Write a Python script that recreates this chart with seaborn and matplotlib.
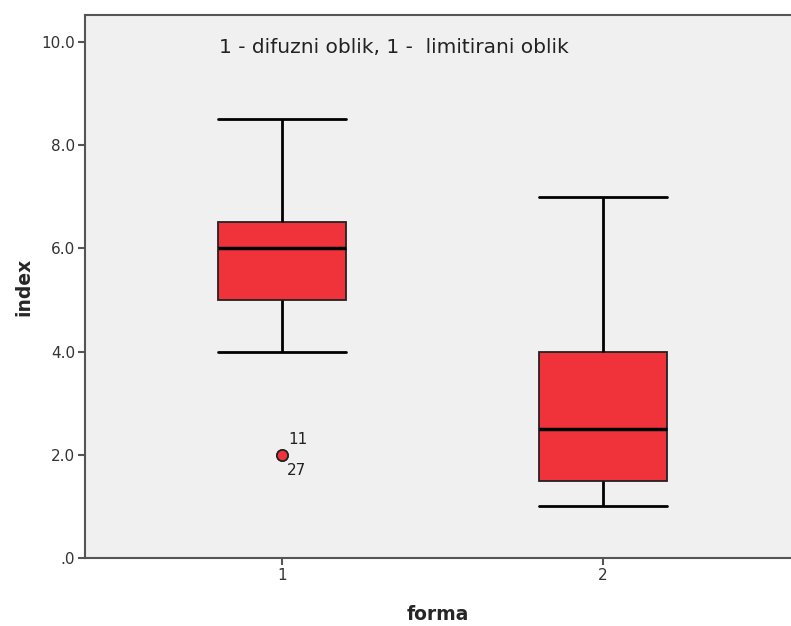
import matplotlib
matplotlib.use("Agg")
import matplotlib.pyplot as plt
import seaborn as sns
import pandas as pd

# values (SPSS style boxplot)
forma_1 = [2.0, 2.0, 4.0, 5.0, 5.0, 5.0, 6.0, 6.0, 6.0, 6.0, 6.5, 6.5, 6.5, 7.0, 8.5]
forma_2 = [1.0, 1.0, 1.5, 1.5, 1.5, 2.0, 2.5, 2.5, 3.0, 4.0, 4.0, 4.0, 5.0, 6.0, 7.0]
groups = ["1", "2"]
outlier_cases = ["11", "27"]
outlier_value = 2.0
yticks = [0, 2, 4, 6, 8, 10]
ytick_labels = [".0", "2.0", "4.0", "6.0", "8.0", "10.0"]
note = "1 - difuzni oblik, 1 -  limitirani oblik"

df = pd.DataFrame({
    "forma": [groups[0]] * len(forma_1) + [groups[1]] * len(forma_2),
    "index": forma_1 + forma_2,
})

sns.set_style("white")
plt.rcParams["font.family"] = ["DejaVu Sans"]

fig = plt.figure(figsize=(7.91, 6.26), dpi=100)
ax = fig.add_axes([85 / 791, (626 - 558) / 626, (791 - 85) / 791, (558 - 15) / 626])
ax.set_facecolor("#f0f0f0")

red = "#f0333b"
box_w = 0.40
sns.boxplot(data=df, x="forma", y="index", order=groups, ax=ax, width=box_w,
            color=red, saturation=1, linewidth=1.3, whis=1.5,
            boxprops=dict(facecolor=red, edgecolor="#222222"),
            whiskerprops=dict(color="black", linewidth=2),
            capprops=dict(color="black", linewidth=2),
            medianprops=dict(color="black", linewidth=2.5),
            flierprops=dict(marker="o", markerfacecolor=red, markeredgecolor="#222222",
                            markersize=8, markeredgewidth=1.2))

# SPSS draws the whisker caps as wide as the box
for line in ax.lines:
    xs, ys = line.get_xdata(), line.get_ydata()
    if len(xs) == 2 and ys[0] == ys[1] and xs[0] != xs[1]:
        c = (xs[0] + xs[1]) / 2
        line.set_xdata([c - box_w / 2, c + box_w / 2])

ax.set_xlim(-0.614, 1.586)
ax.set_ylim(0, 10.52)
ax.set_yticks(yticks)
ax.set_yticklabels(ytick_labels)

for side in ["left", "bottom", "top"]:
    ax.spines[side].set_visible(True)
    ax.spines[side].set_color("#555555")
    ax.spines[side].set_linewidth(1.5)
ax.spines["right"].set_visible(False)

ax.tick_params(axis="both", direction="out", length=5, width=1.5, color="#555555",
               labelsize=11, labelcolor="#333333", pad=2, left=True, bottom=True)

ax.set_xlabel("forma", fontsize=13.5, fontweight="bold", labelpad=16)
ax.set_ylabel("index", fontsize=13.5, fontweight="bold", labelpad=6)

ax.text(0.019, 2.29, outlier_cases[0], fontsize=11, color="#222222",
        ha="left", va="center")
ax.text(0.016, 1.69, outlier_cases[1], fontsize=11, color="#222222",
        ha="left", va="center")

ax.text(0.438, 0.941, note, transform=ax.transAxes, fontsize=14.5, color="#222222",
        ha="center", va="center")

fig.savefig("out.png", dpi=100)
